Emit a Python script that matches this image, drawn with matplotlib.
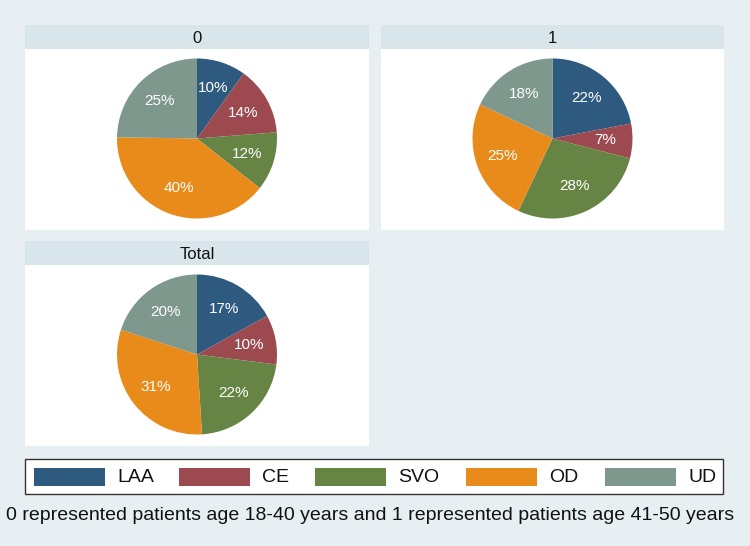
import matplotlib
matplotlib.use("Agg")
import matplotlib.pyplot as plt
from matplotlib.patches import Rectangle

categories = ["LAA", "CE", "SVO", "OD", "UD"]
colors = ["#2e5a80", "#9c4950", "#668444", "#e88b1b", "#7f988e"]
panel_titles = ["0", "1", "Total"]
vals_0 = [10, 14, 12, 40, 25]
vals_1 = [22, 7, 28, 25, 18]
vals_total = [17, 10, 22, 31, 20]
note = "0 represented patients age 18-40 years and 1 represented patients age 41-50 years"

plt.rcParams['font.family'] = ['Liberation Sans', 'DejaVu Sans']

W, H = 750, 546
fig = plt.figure(figsize=(7.5, 5.46), dpi=100)
fig.patch.set_facecolor("#e8eff2")

def fr(x, y, w, h):
    return [x / W, 1 - (y + h) / H, w / W, h / H]

bar_col = "#d8e5eb"
panels = [
    (panel_titles[0], vals_0, 25, 25, 344),
    (panel_titles[1], vals_1, 381, 25, 343),
    (panel_titles[2], vals_total, 25, 241, 344),
]
for title, vals, x, y, w in panels:
    tax = fig.add_axes(fr(x, y, w, 24))
    tax.set_facecolor(bar_col)
    tax.set_xticks([]); tax.set_yticks([])
    for s in tax.spines.values():
        s.set_visible(False)
    tax.text(0.5, 0.45, title, ha="center", va="center", fontsize=12, color="#111111")
    ph = 181
    ax = fig.add_axes(fr(x, y + 24, w, ph))
    ax.set_facecolor("white")
    for s in ax.spines.values():
        s.set_visible(False)
    wedges, texts = ax.pie(vals, colors=colors, startangle=90, counterclock=False,
                           radius=80, center=(w / 2, ph / 2 + 1),
                           labels=[f"{v}%" for v in vals], labeldistance=0.66,
                           wedgeprops=dict(linewidth=0), frame=True,
                           textprops=dict(color="white", fontsize=11, ha="center", va="center"))
    for t in texts:
        t.set_ha("center"); t.set_va("center")
    ax.set_xlim(0, w)
    ax.set_ylim(0, ph)
    ax.set_aspect("equal")
    ax.set_xticks([]); ax.set_yticks([])

# legend
lax = fig.add_axes([0, 0, 1, 1])
lax.set_xlim(0, W); lax.set_ylim(H, 0)
lax.axis("off")
lax.add_patch(Rectangle((25, 459), 698, 35, facecolor="white", edgecolor="#333333", linewidth=1))
sw_x = [34, 179, 315, 466, 605]
for cat, col, sx in zip(categories, colors, sw_x):
    lax.add_patch(Rectangle((sx, 468), 71, 18, facecolor=col, edgecolor="none"))
for cat, sx in zip(categories, sw_x):
    lax.text(sx + 83, 477, cat, ha="left", va="center", fontsize=14, color="#111111")
lax.text(370, 515, note, ha="center", va="center", fontsize=14.0, color="#111111")

fig.savefig("out.png", dpi=100, facecolor=fig.get_facecolor())
